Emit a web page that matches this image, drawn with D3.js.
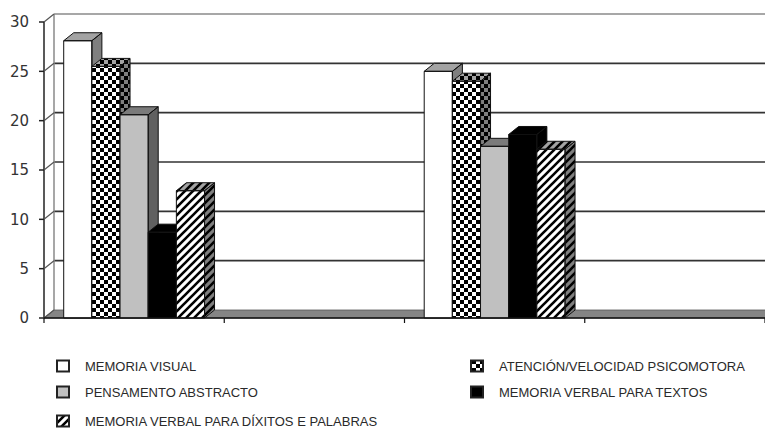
<!DOCTYPE html>
<html>
<head>
<meta charset="utf-8">
<script src="https://cdn.jsdelivr.net/npm/d3@7/dist/d3.min.js"></script>
<style>
  html, body { margin: 0; padding: 0; background: #fff; }
  svg { display: block; }
  .ylab { font-family: "DejaVu Sans", Verdana, sans-serif; font-size: 15px; fill: #333; }
  .leg { font-family: "Liberation Sans", Arial, sans-serif; font-size: 13px; fill: #2a2a2a; }
</style>
</head>
<body>
<svg id="chart" width="765" height="431"></svg>
<script>
// Groups along the category axis (only two of the four slots carry values)
const categories = ["G1", "G2", "G3", "G4"];
const seriesNames = [
  "MEMORIA VISUAL",
  "ATENCIÓN/VELOCIDAD PSICOMOTORA",
  "PENSAMENTO ABSTRACTO",
  "MEMORIA VERBAL PARA TEXTOS",
  "MEMORIA VERBAL PARA DÍXITOS E PALABRAS"
];
const memoriaVisual       = [28.1, null, 25.0, null];
const atencionVelocidad   = [25.5, null, 24.0, null];
const pensamentoAbstracto = [20.6, null, 17.4, null];
const memoriaTextos       = [8.7,  null, 18.6, null];
const memoriaDixitos      = [12.9, null, 17.1, null];
const yTicks = [0, 5, 10, 15, 20, 25, 30];

const seriesValues = [memoriaVisual, atencionVelocidad, pensamentoAbstracto, memoriaTextos, memoriaDixitos];
const fills = ["#ffffff", "url(#checker)", "#c0c0c0", "#000000", "url(#hatch)"];

const svg = d3.select("#chart");
const W = 765;
const depthX = 10, depthY = -8;     // 3D depth offset
const plotLeft = 44, plotBottom = 318, plotTop = 22;

const x = d3.scaleBand().domain(categories).range([plotLeft, W]).paddingInner(0).paddingOuter(0);
const xs = d3.scaleBand().domain(seriesNames).range([0, x.bandwidth()]).paddingInner(0).paddingOuter(0.7);
const y = d3.scaleLinear().domain([0, 30]).range([plotBottom, plotTop]);

// patterns
const defs = svg.append("defs");
const chk = defs.append("pattern").attr("id", "checker").attr("patternUnits", "userSpaceOnUse")
  .attr("width", 8).attr("height", 8);
chk.append("rect").attr("width", 8).attr("height", 8).attr("fill", "#fff");
chk.append("rect").attr("x", 0).attr("y", 0).attr("width", 4).attr("height", 4).attr("fill", "#000");
chk.append("rect").attr("x", 4).attr("y", 4).attr("width", 4).attr("height", 4).attr("fill", "#000");

const hp = 8;
const hat = defs.append("pattern").attr("id", "hatch").attr("patternUnits", "userSpaceOnUse")
  .attr("width", hp).attr("height", hp);
hat.append("rect").attr("width", hp).attr("height", hp).attr("fill", "#fff");
hat.append("path").attr("d", `M-2,${hp + 2} L${hp + 2},-2 M-${hp / 2 + 2},${hp / 2 + 2} L${hp / 2 + 2},-${hp / 2 + 2} M${hp / 2 - 2},${hp * 1.5 + 2} L${hp * 1.5 + 2},${hp / 2 - 2}`)
  .attr("stroke", "#000").attr("stroke-width", 2.6);

// back wall gridlines
const g = svg.append("g");
g.selectAll("line.grid").data(yTicks.filter(d => d > 0)).join("line")
  .attr("x1", plotLeft + depthX).attr("x2", W)
  .attr("y1", d => y(d) + depthY).attr("y2", d => y(d) + depthY)
  .attr("stroke", d => d === 30 ? "#8a8a8a" : "#333")
  .attr("stroke-width", d => d === 30 ? 1.5 : 1.7);
// back wall left edge
g.append("line").attr("x1", plotLeft + depthX).attr("x2", plotLeft + depthX)
  .attr("y1", y(30) + depthY).attr("y2", y(0) + depthY)
  .attr("stroke", "#8a8a8a").attr("stroke-width", 1.5);

// floor
g.append("path")
  .attr("d", `M${plotLeft},${y(0)} L${W + 20},${y(0)} L${W + 20 + depthX},${y(0) + depthY} L${plotLeft + depthX},${y(0) + depthY} Z`)
  .attr("fill", "#858585").attr("stroke", "#555").attr("stroke-width", 0.8);

// front value axis with ticks and connectors
g.append("line").attr("x1", plotLeft).attr("x2", plotLeft).attr("y1", y(30)).attr("y2", y(0))
  .attr("stroke", "#222").attr("stroke-width", 1.5);
g.selectAll("line.tk").data(yTicks).join("line")
  .attr("x1", plotLeft - 5).attr("x2", plotLeft).attr("y1", d => y(d)).attr("y2", d => y(d))
  .attr("stroke", "#222").attr("stroke-width", 1.5);
g.selectAll("line.con").data(yTicks).join("line")
  .attr("x1", plotLeft).attr("x2", plotLeft + depthX).attr("y1", d => y(d)).attr("y2", d => y(d) + depthY)
  .attr("stroke", "#555").attr("stroke-width", 1.2);
g.selectAll("text.ylab").data(yTicks).join("text").attr("class", "ylab")
  .attr("x", 29).attr("y", d => y(d)).attr("dy", "0.36em").attr("text-anchor", "end")
  .text(d => d);

// bars
const bars = svg.append("g");
categories.forEach((c, ci) => {
  seriesNames.forEach((s, si) => {
    const v = seriesValues[si][ci];
    if (v == null) return;
    const x0 = x(c) + xs(s), x1 = x0 + xs.bandwidth();
    const yt = y(v), yb = y(0);
    const b = bars.append("g");
    const front = `M${x0},${yb} L${x0},${yt} L${x1},${yt} L${x1},${yb} Z`;
    const topF = `M${x0},${yt} L${x0 + depthX},${yt + depthY} L${x1 + depthX},${yt + depthY} L${x1},${yt} Z`;
    const side = `M${x1},${yb} L${x1},${yt} L${x1 + depthX},${yt + depthY} L${x1 + depthX},${yb + depthY} Z`;
    b.append("path").attr("d", front).attr("fill", fills[si]);
    b.append("path").attr("d", topF).attr("fill", fills[si]);
    b.append("path").attr("d", topF).attr("fill", "#000").attr("fill-opacity", 0.36);
    b.append("path").attr("d", side).attr("fill", fills[si]);
    b.append("path").attr("d", side).attr("fill", "#000").attr("fill-opacity", 0.5);
    [front, topF, side].forEach(p => b.append("path").attr("d", p).attr("fill", "none")
      .attr("stroke", "#111").attr("stroke-width", 1).attr("stroke-linejoin", "round"));
  });
});

// category axis
svg.append("line").attr("x1", plotLeft).attr("x2", W).attr("y1", y(0)).attr("y2", y(0))
  .attr("stroke", "#111").attr("stroke-width", 1.5);
svg.selectAll("line.ctk").data(categories.concat(["end"])).join("line")
  .attr("x1", (d, i) => plotLeft + i * x.step()).attr("x2", (d, i) => plotLeft + i * x.step())
  .attr("y1", y(0)).attr("y2", y(0) + 5)
  .attr("stroke", "#111").attr("stroke-width", 1.2);

// legend
const legPos = [[56, 366], [470, 366], [56, 392], [470, 392], [56, 421]];
const leg = svg.append("g");
seriesNames.forEach((s, i) => {
  const [lx, ly] = legPos[i];
  leg.append("rect").attr("x", lx + 1).attr("y", ly - 5.5).attr("width", 12).attr("height", 11)
    .attr("fill", fills[i]).attr("stroke", "#222").attr("stroke-width", 2);
  leg.append("text").attr("class", "leg").attr("x", lx + 29).attr("y", ly).attr("dy", "0.36em").text(s);
});
</script>
</body>
</html>
